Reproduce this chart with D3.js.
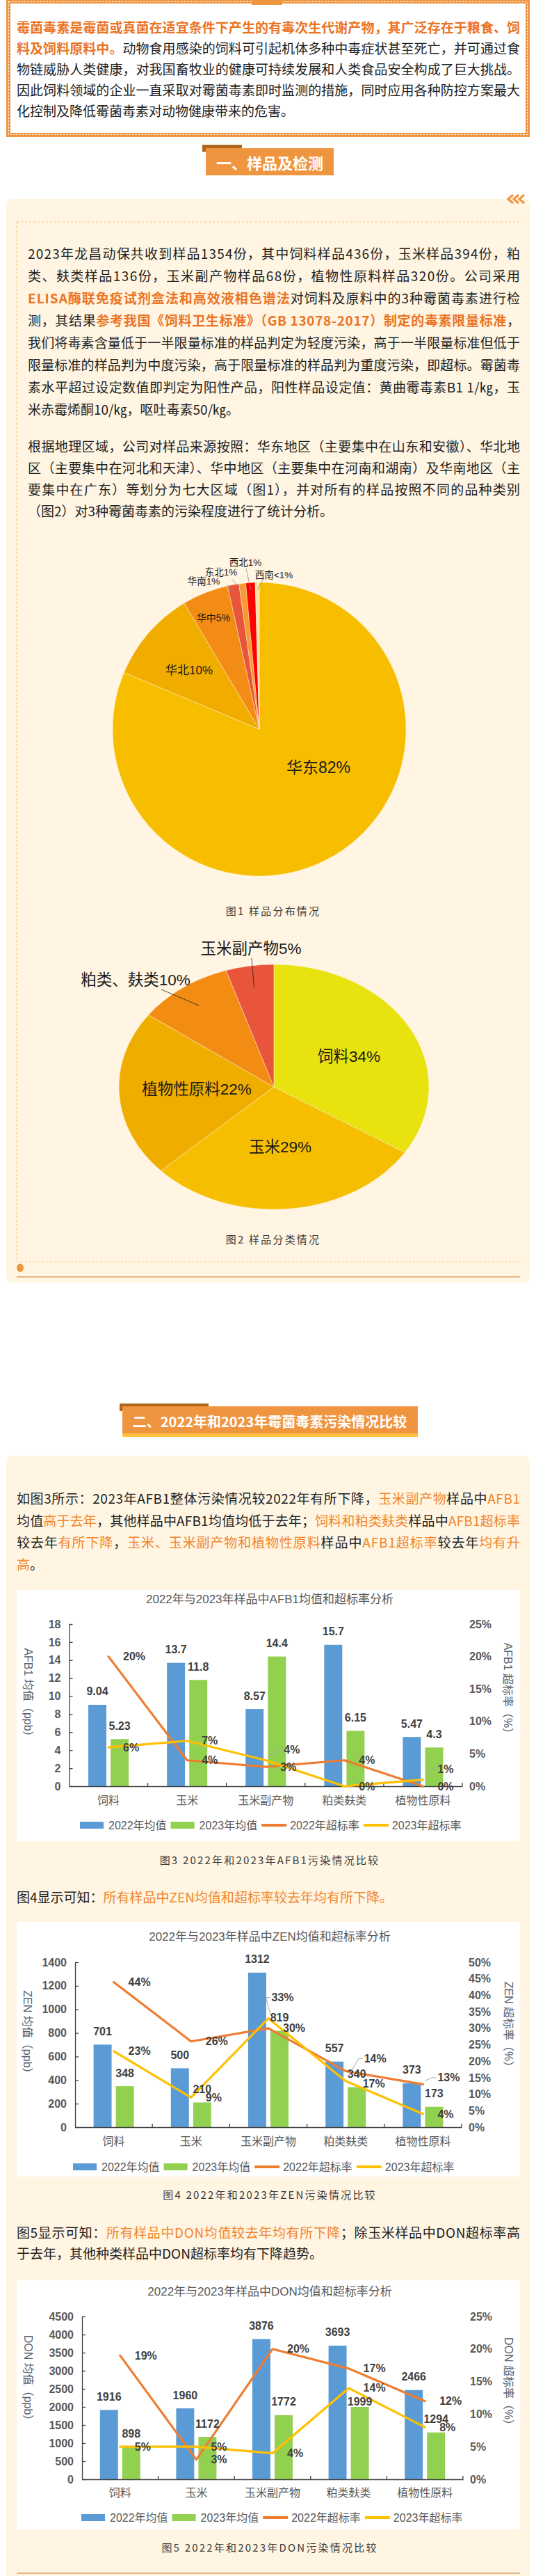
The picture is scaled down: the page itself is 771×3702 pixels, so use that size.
<!DOCTYPE html>
<html>
<head>
<meta charset="utf-8">
<script src="https://cdn.jsdelivr.net/npm/d3@7"></script>
<style>
  html, body { margin: 0; padding: 0; background: #fff; }
  svg { display: block; }
</style>
</head>
<body>
<svg id="page" width="771" height="3702"></svg>
<script>
// ---- data ----
const regions = ['华东', '华北', '华中', '华南', '东北', '西北', '西南'];
const regionCounts = [1101, 137, 69, 17, 10, 14, 6];
const regionPct = ['82%', '10%', '5%', '1%', '1%', '1%', '<1%'];

const sampleTypes = ['饲料', '玉米', '植物性原料', '粕类、麸类', '玉米副产物'];
const sampleTypePct = [34, 29, 22, 10, 5];

const categories = ['饲料', '玉米', '玉米副产物', '粕类麸类', '植物性原料'];

const afb1Mean2022 = [9.04, 13.7, 8.57, 15.7, 5.47];
const afb1Mean2023 = [5.23, 11.8, 14.4, 6.15, 4.3];
const afb1Rate2022 = [20, 4, 3, 4, 0];
const afb1Rate2023 = [6, 7, 4, 0, 1];

const zenMean2022 = [701, 500, 1312, 557, 373];
const zenMean2023 = [348, 210, 819, 340, 173];
const zenRate2022 = [44, 26, 30, 17, 13];
const zenRate2023 = [23, 9, 33, 14, 4];

const donMean2022 = [1916, 1960, 3876, 3693, 2466];
const donMean2023 = [898, 1172, 1772, 1999, 1294];
const donRate2022 = [19, 3, 20, 17, 12];
const donRate2023 = [5, 5, 4, 14, 8];

const afb1Ticks = [0, 2, 4, 6, 8, 10, 12, 14, 16, 18];
const zenTicks = [0, 200, 400, 600, 800, 1000, 1200, 1400];
const donTicks = [0, 500, 1000, 1500, 2000, 2500, 3000, 3500, 4000, 4500];
const rateTicks25 = [0, 5, 10, 15, 20, 25];
const rateTicks50 = [0, 5, 10, 15, 20, 25, 30, 35, 40, 45, 50];

const legendNames = ['2022年均值', '2023年均值', '2022年超标率', '2023年超标率'];

// ---- style ----
const C = {
  orange: '#f0953f', brown: '#b0651f', cream: '#fff5e2', dash: '#f8c46e',
  bold: '#eb7425', hl: '#f0862c', text: '#222', grey: '#595959', axis: '#404040',
  blue: '#5b9bd5', green: '#92d050', l22: '#ed7d31', l23: '#ffc000'
};
const CJK = '"Noto Sans CJK SC", sans-serif';
const CHART = '"Liberation Sans", Arial, "Noto Sans CJK SC", sans-serif';
const pie1Colors = ['#f7be00', '#f0ad00', '#f28c14', '#e9553a', '#f89a32', '#ff0000', '#fce2a5'];
const pie2Colors = ['#e8e20e', '#f6be00', '#efad00', '#f28c13', '#e9553a'];

const svg = d3.select('#page');

const box = (g, x, y, w, h, fill) => g.append('rect')
  .attr('x', x).attr('y', y).attr('width', w).attr('height', h).attr('fill', fill);

const hline = (g, x1, x2, y, stroke, dash) => g.append('line')
  .attr('x1', x1).attr('x2', x2).attr('y1', y).attr('y2', y)
  .attr('stroke', stroke).attr('stroke-width', 1).attr('stroke-dasharray', dash || null);

const ST = { n: [C.text, 400], b: [C.bold, 700], h: [C.hl, 400] };

// 逐行排版，非末行用 textLength 两端对齐
function para(g, x, y0, lh, width, lines, size = 19) {
  lines.forEach((segs, i) => {
    const t = g.append('text').attr('x', x).attr('y', y0 + i * lh)
      .attr('dominant-baseline', 'central')
      .style('font-family', CJK).style('font-size', size + 'px');
    segs.forEach(([s, k]) => t.append('tspan').text(s)
      .attr('fill', ST[k][0]).attr('font-weight', ST[k][1]));
    if (i < lines.length - 1) t.attr('textLength', width).attr('lengthAdjust', 'spacing');
  });
}

const caption = (x, y, s) => svg.append('text').attr('x', x).attr('y', y)
  .attr('text-anchor', 'middle').attr('dominant-baseline', 'central')
  .style('font-family', CJK).style('font-size', '15px').style('letter-spacing', '2.2px')
  .attr('fill', '#3a3a3a').text(s);

// ---- intro box ----
box(svg, 9, -2, 753, 199, C.orange);
box(svg, 15, 5, 741, 186, '#fff');
svg.append('rect').attr('x', 12.5).attr('y', 2.5).attr('width', 746).attr('height', 191)
  .attr('fill', 'none').attr('stroke', '#fff').attr('stroke-width', 1.2).attr('stroke-dasharray', '2.5,2');
box(svg, 362, 0, 44, 7, C.orange);

para(svg, 24, 38, 30, 724, [
  [['霉菌毒素是霉菌或真菌在适宜条件下产生的有毒次生代谢产物，其广泛存在于粮食、饲', 'b']],
  [['料及饲料原料中。', 'b'], ['动物食用感染的饲料可引起机体多种中毒症状甚至死亡，并可通过食', 'n']],
  [['物链威胁人类健康，对我国畜牧业的健康可持续发展和人类食品安全构成了巨大挑战。', 'n']],
  [['因此饲料领域的企业一直采取对霉菌毒素即时监测的措施，同时应用各种防控方案最大', 'n']],
  [['化控制及降低霉菌毒素对动物健康带来的危害。', 'n']]
]);

// ---- section 1 header ----
box(svg, 291, 208, 57, 10, C.brown);
box(svg, 296, 213, 184, 39, C.orange);
svg.append('text').attr('x', 388).attr('y', 233).attr('text-anchor', 'middle')
  .attr('dominant-baseline', 'central').style('font-family', CJK).style('font-size', '22px')
  .attr('font-weight', 700).attr('fill', '#fff').text('一、样品及检测');

// ---- panel 1 ----
box(svg, 9, 286, 753, 1557, C.cream).attr('rx', 8);
[731, 739, 747].forEach(cx => svg.append('path')
  .attr('d', `M${cx + 7},280 L${cx},286 L${cx + 7},292`)
  .attr('fill', 'none').attr('stroke', C.orange).attr('stroke-width', 3.2));
hline(svg, 24, 748, 319, C.dash, '3,3');
svg.append('line').attr('x1', 24).attr('x2', 24).attr('y1', 319).attr('y2', 1813)
  .attr('stroke', C.dash).attr('stroke-dasharray', '3,3');
hline(svg, 24, 748, 1813, C.dash, '3,3');
svg.append('ellipse').attr('cx', 29).attr('cy', 1822).attr('rx', 5).attr('ry', 6).attr('fill', C.orange);
hline(svg, 24, 748, 1835, '#c8782f');

para(svg, 40, 363, 32, 708, [
  [['2023年龙昌动保共收到样品1354份，其中饲料样品436份，玉米样品394份，粕', 'n']],
  [['类、麸类样品136份，玉米副产物样品68份，植物性原料样品320份。公司采用', 'n']],
  [['ELISA酶联免疫试剂盒法和高效液相色谱法', 'b'], ['对饲料及原料中的3种霉菌毒素进行检', 'n']],
  [['测，其结果', 'n'], ['参考我国《饲料卫生标准》（GB 13078-2017）制定的毒素限量标准', 'b'], ['，', 'n']],
  [['我们将毒素含量低于一半限量标准的样品判定为轻度污染，高于一半限量标准但低于', 'n']],
  [['限量标准的样品判为中度污染，高于限量标准的样品判为重度污染，即超标。霉菌毒', 'n']],
  [['素水平超过设定数值即判定为阳性产品，阳性样品设定值：黄曲霉毒素B1 1/㎏，玉', 'n']],
  [['米赤霉烯酮10/㎏，呕吐毒素50/㎏。', 'n']]
]);

para(svg, 40, 640, 31, 708, [
  [['根据地理区域，公司对样品来源按照：华东地区（主要集中在山东和安徽）、华北地', 'n']],
  [['区（主要集中在河北和天津）、华中地区（主要集中在河南和湖南）及华南地区（主', 'n']],
  [['要集中在广东）等划分为七大区域（图1），并对所有的样品按照不同的品种类别', 'n']],
  [['（图2）对3种霉菌毒素的污染程度进行了统计分析。', 'n']]
]);

// ---- pie 1 ----
const P1 = { cx: 373, cy: 1048, r: 211 };
const pie1Label = [[458, 1103, 23], [272, 963, 17], [307, 888, 14], [293, 835, 13.5], [318, 822, 13.5], [353, 808, 13.5], [394, 826, 13.5]];
const pie1Lead = [null, null, null, [33, 5], [15, 10], [1, 9], [-14, 4]];
const arcs1 = d3.pie().sort(null)(regionCounts);
const arc1 = d3.arc().innerRadius(0).outerRadius(P1.r);
const edge1 = d3.arc().innerRadius(P1.r * 0.95).outerRadius(P1.r * 0.95);
const gp1 = svg.append('g').attr('transform', `translate(${P1.cx},${P1.cy})`);
gp1.selectAll('path').data(arcs1).join('path').attr('d', arc1)
  .attr('fill', (d, i) => pie1Colors[i]).attr('stroke', '#fff3d8').attr('stroke-width', 0.5);
arcs1.forEach((d, i) => {
  const [lx, ly, fs] = pie1Label[i];
  if (pie1Lead[i]) {
    const [ex, ey] = edge1.centroid(d);
    svg.append('line').attr('x1', lx + pie1Lead[i][0]).attr('y1', ly + pie1Lead[i][1])
      .attr('x2', P1.cx + ex).attr('y2', P1.cy + ey).attr('stroke', '#8c8c8c').attr('stroke-width', 0.8);
  }
  svg.append('text').attr('x', lx).attr('y', ly).attr('text-anchor', 'middle')
    .attr('dominant-baseline', 'central').style('font-family', CHART).style('font-size', fs + 'px')
    .attr('fill', '#1a1a1a').text(regions[i] + regionPct[i]);
});
caption(393, 1308, '图1 样品分布情况');

// ---- pie 2 (ellipse) ----
const P2 = { cx: 394, cy: 1562, r: 176, sx: 1.267 };
const pie2Label = [[502, 1518], [403, 1648], [283, 1565], [195, 1408], [361, 1363]];
const pie2Lead = [null, null, null, [232, 1422], [362, 1377]];
const arcs2 = d3.pie().sort(null)(sampleTypePct);
const arc2 = d3.arc().innerRadius(0).outerRadius(P2.r);
const mid2 = d3.arc().innerRadius(P2.r * 0.82).outerRadius(P2.r * 0.82);
const gp2 = svg.append('g').attr('transform', `translate(${P2.cx},${P2.cy}) scale(${P2.sx},1)`);
gp2.selectAll('path').data(arcs2).join('path').attr('d', arc2)
  .attr('fill', (d, i) => pie2Colors[i]).attr('stroke', '#fff3d8').attr('stroke-width', 0.5)
  .attr('vector-effect', 'non-scaling-stroke');
arcs2.forEach((d, i) => {
  if (pie2Lead[i]) {
    const [ex, ey] = mid2.centroid(d);
    svg.append('line').attr('x1', pie2Lead[i][0]).attr('y1', pie2Lead[i][1])
      .attr('x2', P2.cx + ex * P2.sx).attr('y2', P2.cy + ey).attr('stroke', '#222').attr('stroke-width', 0.8);
  }
  svg.append('text').attr('x', pie2Label[i][0]).attr('y', pie2Label[i][1]).attr('text-anchor', 'middle')
    .attr('dominant-baseline', 'central').style('font-family', CHART).style('font-size', '22.5px')
    .attr('fill', '#1a1a1a').text(sampleTypes[i] + sampleTypePct[i] + '%');
});
caption(393, 1780, '图2 样品分类情况');

// ---- section 2 header ----
box(svg, 172, 2017, 128, 11, C.brown);
box(svg, 176, 2021, 425, 39, C.orange);
box(svg, 176, 2060, 425, 5, '#ffc23c');
svg.append('text').attr('x', 388).attr('y', 2042).attr('text-anchor', 'middle')
  .attr('dominant-baseline', 'central').style('font-family', CJK).style('font-size', '20px')
  .attr('font-weight', 700).attr('fill', '#fff').text('二、2022年和2023年霉菌毒素污染情况比较');

// ---- panel 2 ----
box(svg, 9, 2092, 753, 1640, C.cream).attr('rx', 8);
hline(svg, 24, 748, 3698, '#c8782f');

para(svg, 24, 2152, 31.7, 724, [
  [['如图3所示：2023年AFB1整体污染情况较2022年有所下降，', 'n'], ['玉米副产物', 'h'], ['样品中', 'n'], ['AFB1', 'h']],
  [['均值', 'n'], ['高于去年', 'h'], ['，其他样品中AFB1均值均低于去年；', 'n'], ['饲料和粕类麸类', 'h'], ['样品中', 'n'], ['AFB1超标率', 'h']],
  [['较去年', 'n'], ['有所下降', 'h'], ['，', 'n'], ['玉米、玉米副产物和植物性原料', 'h'], ['样品中', 'n'], ['AFB1超标率', 'h'], ['较去年', 'n'], ['均有升', 'h']],
  [['高', 'h'], ['。', 'n']]
]);
para(svg, 24, 2725, 30, 724, [
  [['图4显示可知：', 'n'], ['所有样品中ZEN均值和超标率较去年均有所下降。', 'h']]
]);
para(svg, 24, 3207, 30, 724, [
  [['图5显示可知：', 'n'], ['所有样品中DON均值较去年均有所下降', 'h'], ['；除玉米样品中DON超标率高', 'n']],
  [['于去年，其他种类样品中DON超标率均有下降趋势。', 'n']]
]);

// ---- combo charts ----
function comboChart(c) {
  const g = svg.append('g');
  box(g, 24, c.box[0], 724, c.box[1] - c.box[0], '#fff');
  g.append('text').attr('x', 388).attr('y', c.titleY).attr('text-anchor', 'middle')
    .attr('dominant-baseline', 'central').style('font-family', CHART).style('font-size', '17px')
    .attr('fill', C.grey).text(c.title);

  const x = d3.scaleBand().domain(categories).range([c.x0, c.x1]);
  const xs = d3.scaleBand().domain(['2022', '2023']).range([-29, 29]).paddingInner(0.19);
  const y = d3.scaleLinear().domain([0, c.yMax]).range([c.bottom, c.top]);
  const r = d3.scaleLinear().domain([0, c.rMax]).range([c.bottom, c.top]);
  const cx = d => x(d) + x.bandwidth() / 2;

  const bars = [{ k: '2022', v: c.m22, fill: C.blue }, { k: '2023', v: c.m23, fill: C.green }];
  bars.forEach(s => g.append('g').selectAll('rect').data(categories).join('rect')
    .attr('x', d => cx(d) + xs(s.k)).attr('width', xs.bandwidth())
    .attr('y', (d, i) => y(s.v[i])).attr('height', (d, i) => c.bottom - y(s.v[i]))
    .attr('fill', s.fill));

  const la = g.append('g').attr('transform', `translate(${c.x0},0)`)
    .call(d3.axisLeft(y).tickValues(c.yTicks).tickSize(-5).tickSizeOuter(0).tickPadding(12)
      .tickFormat(d => String(d)));
  const ra = g.append('g').attr('transform', `translate(${c.x1},0)`)
    .call(d3.axisRight(r).tickValues(c.rTicks).tickSize(0).tickPadding(10).tickFormat(d => d + '%'));
  ra.select('.domain').remove();
  const ba = g.append('g').attr('transform', `translate(0,${c.bottom})`)
    .call(d3.axisBottom(x).tickSize(0).tickSizeOuter(0));
  ba.selectAll('text').attr('y', c.catY - c.bottom).attr('dy', null)
    .attr('dominant-baseline', 'central').attr('font-weight', 400);
  [la, ra, ba].forEach(a => {
    a.attr('font-family', CHART).attr('font-size', 16);
    a.selectAll('text').attr('fill', C.grey);
    a.selectAll('.domain, .tick line').attr('stroke', C.axis).attr('stroke-width', 1.3);
  });
  la.selectAll('text').attr('font-weight', 700);
  ra.selectAll('text').attr('font-weight', 700);
  g.append('g').selectAll('line').data(categories).join('line')
    .attr('x1', d => x(d) + x.bandwidth()).attr('x2', d => x(d) + x.bandwidth())
    .attr('y1', c.bottom).attr('y2', c.bottom - 5).attr('stroke', C.axis).attr('stroke-width', 1.3);

  const rates = [{ v: c.r22, color: C.l22, adj: c.adj22 || [] }, { v: c.r23, color: C.l23, adj: c.adj23 || [] }];
  const line = d3.line().x((d, i) => cx(categories[i])).y(d => r(d));
  rates.forEach(l => g.append('path').datum(l.v).attr('d', line).attr('fill', 'none')
    .attr('stroke', l.color).attr('stroke-width', 3.2)
    .attr('stroke-linejoin', 'round').attr('stroke-linecap', 'round'));

  const lbl = (x0, y0, s, anchor) => g.append('text').attr('x', x0).attr('y', y0)
    .attr('text-anchor', anchor).attr('dominant-baseline', 'central')
    .style('font-family', CHART).style('font-size', '16px').attr('font-weight', 700)
    .attr('fill', C.axis).text(s);

  bars.forEach((s, si) => s.v.forEach((v, i) => {
    const dy = (c.barAdj && c.barAdj[si] && c.barAdj[si][i]) || 0;
    lbl(cx(categories[i]) + xs(s.k) + xs.bandwidth() / 2, y(v) - 19 + dy, String(v), 'middle');
  }));
  rates.forEach(l => l.v.forEach((v, i) => {
    const [dx, dy, lead] = l.adj[i] || [0, 0, 0];
    const px = cx(categories[i]), py = r(v);
    const lx = px + 21 + dx, ly = py + dy;
    if (lead) g.append('polyline')
      .attr('points', [[lx - 2, ly], [lx - 8, ly], [px + 3, py - 5]].join(' '))
      .attr('fill', 'none').attr('stroke', '#a6a6a6').attr('stroke-width', 1);
    lbl(lx, ly, v + '%', 'start');
  }));

  [[c.lTitle, c.lText], [c.rTitle, c.rText]].forEach(([p, s]) => g.append('text')
    .attr('transform', `translate(${p[0]},${p[1]}) rotate(90)`).attr('text-anchor', 'middle')
    .attr('dominant-baseline', 'central').style('font-family', CHART).style('font-size', '16px')
    .attr('fill', '#56606e').text(s));

  // legend
  let lx = c.legendX;
  const sym = [C.blue, C.green, C.l22, C.l23];
  legendNames.forEach((name, i) => {
    if (i < 2) box(g, lx, c.legendY - 5, 34, 10, sym[i]);
    else g.append('line').attr('x1', lx).attr('x2', lx + 36).attr('y1', c.legendY).attr('y2', c.legendY)
      .attr('stroke', sym[i]).attr('stroke-width', 4);
    const t = g.append('text').attr('x', lx + 41).attr('y', c.legendY).attr('dominant-baseline', 'central')
      .style('font-family', CHART).style('font-size', '16px').attr('fill', C.grey).text(name);
    lx += 41 + t.node().getComputedTextLength() + 6;
  });
  caption(388, c.captionY, c.caption);
}

comboChart({
  box: [2285, 2646], titleY: 2298, title: '2022年与2023年样品中AFB1均值和超标率分析',
  x0: 99.5, x1: 665, top: 2334, bottom: 2567, catY: 2587, legendY: 2623, legendX: 115,
  yMax: 18, yTicks: afb1Ticks, rMax: 25, rTicks: rateTicks25,
  m22: afb1Mean2022, m23: afb1Mean2023, r22: afb1Rate2022, r23: afb1Rate2023,
  adj23: [null, null, [5, -15, 1], null, [0, -15, 1]],
  lTitle: [40, 2436], lText: 'AFB1 均值（ppb）', rTitle: [730, 2430], rText: 'AFB1 超标率（%）',
  captionY: 2672, caption: '图3 2022年和2023年AFB1污染情况比较'
});
comboChart({
  box: [2762, 3128], titleY: 2783, title: '2022年与2023年样品中ZEN均值和超标率分析',
  x0: 108, x1: 664, top: 2820, bottom: 3057, catY: 3077, legendY: 3114, legendX: 105,
  yMax: 1400, yTicks: zenTicks, rMax: 50, rTicks: rateTicks50,
  m22: zenMean2022, m23: zenMean2023, r22: zenRate2022, r23: zenRate2023,
  adj22: [null, null, null, [3.5, 18, 0], [0, -9.5, 1]],
  adj23: [null, null, [-16.5, -30, 1], [5.5, -32, 1], null],
  lTitle: [39, 2924], lText: 'ZEN 均值（ppb）', rTitle: [731, 2913], rText: 'ZEN 超标率（%）',
  captionY: 3153, caption: '图4 2022年和2023年ZEN污染情况比较'
});
comboChart({
  box: [3277, 3635], titleY: 3293, title: '2022年与2023年样品中DON均值和超标率分析',
  x0: 118, x1: 666, top: 3329, bottom: 3563, catY: 3582, legendY: 3618, legendX: 117,
  yMax: 4500, yTicks: donTicks, rMax: 25, rTicks: rateTicks25,
  m22: donMean2022, m23: donMean2023, r22: donRate2022, r23: donRate2023,
  barAdj: [null, [0, 0, 0, 11, 0]],
  lTitle: [40, 3421], lText: 'DON 均值（ppb）', rTitle: [731, 3426], rText: 'DON 超标率（%）',
  captionY: 3660, caption: '图5 2022年和2023年DON污染情况比较'
});
</script>
</body>
</html>
